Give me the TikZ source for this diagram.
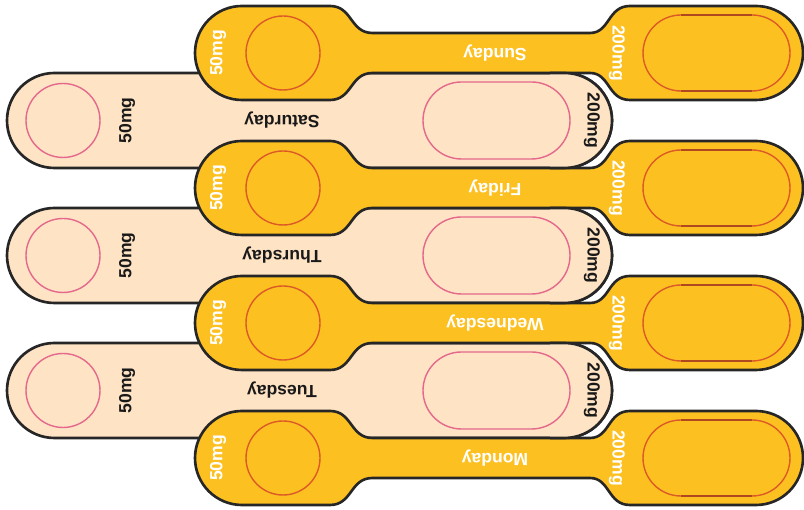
\documentclass[tikz,border=0pt]{standalone}
\usepackage{fontspec}
\setmainfont{Liberation Sans}
\definecolor{pillgold}{HTML}{FDC021}
\definecolor{pillcream}{HTML}{FEE3C4}
\definecolor{rimred}{HTML}{DB5A26}
\definecolor{rimpink}{HTML}{E4698C}

\begin{document}
\begin{tikzpicture}[
        outline/.style={draw=black!85, line width=1.5pt},
        goldstrip/.style={outline, fill=pillgold},
        creamstrip/.style={outline, fill=pillcream},
        goldrim/.style={draw=rimred, line width=0.8pt},
        creamrim/.style={draw=rimpink, line width=0.8pt},
        goldtext/.style={text=white, font=\bfseries\fontsize{10}{12}\selectfont, inner sep=0pt},
        creamtext/.style={text=black!90, font=\bfseries\fontsize{10}{12}\selectfont, inner sep=0pt}
    ]
        \useasboundingbox (0,0) rectangle (16.08,10.2);

        % Sagoma delle strisce dorate (bulbo, collo, bulbo)
        \def\goldshape{(4.84,0.94) -- (6.6,0.94) .. controls (7.05,0.94) and (7.0,0.4) .. (7.45,0.4)
            -- (11.8,0.4) .. controls (12.2,0.4) and (12.15,0.94) .. (12.6,0.94)
            -- (15.12,0.94) arc[start angle=90, end angle=-90, radius=0.94]
            -- (12.6,-0.94) .. controls (12.15,-0.94) and (12.2,-0.4) .. (11.8,-0.4)
            -- (7.45,-0.4) .. controls (7.0,-0.4) and (7.05,-0.94) .. (6.6,-0.94)
            -- (4.84,-0.94) arc[start angle=270, end angle=90, radius=0.94] -- cycle}

        % ----------------------------------------------------
        % 1. Strisce chiare (Saturday, Thursday, Tuesday)
        % ----------------------------------------------------
        \foreach \y/\day/\n in {2.39/Tuesday/tue, 5.09/Thursday/thu, 7.79/Saturday/sat} {
            \begin{scope}[yshift=\y cm]
                \draw[creamstrip, rounded corners=0.95cm] (0.14,-0.95) rectangle (12.24,0.95);
                \draw[creamrim] (1.26,0) circle (0.74);
                \node[creamtext, rotate=90] (small-\n) at (2.54,0) {50mg};
                \node[creamtext, rotate=180] (day-\n) at (5.64,0) {\day};
                \draw[creamrim, rounded corners=0.77cm] (8.46,-0.77) rectangle (11.4,0.77);
            \end{scope}
        }

        % ----------------------------------------------------
        % 2. Strisce dorate (Sunday, Friday, Wednesday, Monday)
        % ----------------------------------------------------
        \foreach \y/\day/\n in {1.04/Monday/mon, 3.74/Wednesday/wed, 6.44/Friday/fri, 9.14/Sunday/sun} {
            \begin{scope}[yshift=\y cm]
                \draw[goldstrip] \goldshape;
                \draw[goldrim] (5.66,0) circle (0.74);
                \node[goldtext, rotate=90] (small-\n) at (4.36,0) {50mg};
                \node[goldtext, rotate=180] (day-\n) at (9.9,0) {\day};
                \node[goldtext, rotate=-90] (big-\n) at (12.34,0) {200mg};
                \draw[goldrim, rounded corners=0.76cm] (12.86,-0.76) rectangle (15.8,0.76);
                \draw[goldrim, line width=1.1pt, rimred!80!black] (13.62,0.76) -- (15.04,0.76);
                \draw[goldrim, line width=1.1pt, rimred!80!black] (13.62,-0.76) -- (15.04,-0.76);
            \end{scope}
        }

        % ----------------------------------------------------
        % 3. Estremi destri delle strisce chiare sopra quelle dorate
        % ----------------------------------------------------
        \begin{scope}
            \clip (11,0) rectangle (16.08,10.2);
            \foreach \y/\n in {2.39/tue, 5.09/thu, 7.79/sat} {
                \begin{scope}[yshift=\y cm]
                    \draw[creamstrip, rounded corners=0.95cm] (0.14,-0.95) rectangle (12.24,0.95);
                    \draw[creamrim, rounded corners=0.77cm] (8.46,-0.77) rectangle (11.4,0.77);
                    \node[creamtext, rotate=-90] (big-\n) at (11.84,0) {200mg};
                \end{scope}
            }
        \end{scope}

    \end{tikzpicture}
\end{document}
